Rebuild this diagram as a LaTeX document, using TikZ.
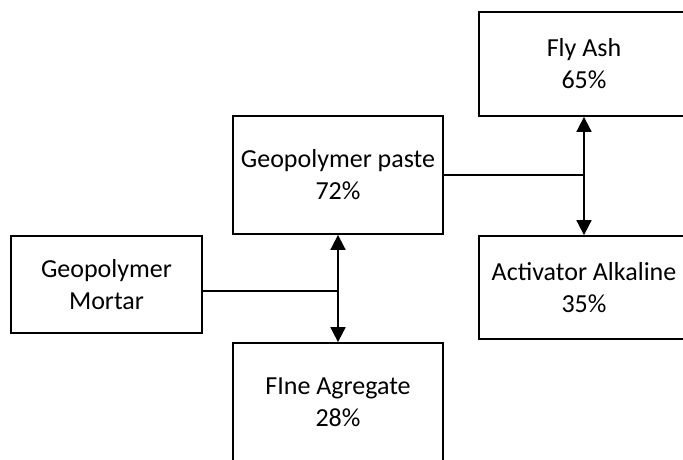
\documentclass[tikz,border=0pt]{standalone}
\usepackage{fontspec}
\setmainfont{Carlito}
\usetikzlibrary{arrows.meta,positioning}

\begin{document}
\begin{tikzpicture}[
    x=1pt, y=-1pt,
    part/.style={rectangle, draw, line width=1.8pt, minimum width=210pt, align=center, inner sep=0pt, font=\fontsize{26}{32}\selectfont},
    link/.style={line width=1.8pt},
    dbl/.style={line width=1.8pt, {Triangle[width=15pt,length=15pt]}-{Triangle[width=15pt,length=15pt]}}
]
\useasboundingbox (0,0) rectangle (683,459);
\clip (0,0) rectangle (683,459);

\node[part, minimum width=191pt, minimum height=97pt] (mortar) at (106.5,284.5) {Geopolymer\\Mortar};
\node[part, minimum height=118pt] (paste) at (338,175) {Geopolymer paste\\72\%};
\node[part, minimum height=118pt] (fine) at (338,402) {FIne Agregate\\28\%};
\node[part, minimum height=104pt] (flyash) at (584,64) {Fly Ash\\65\%};
\node[part, minimum height=103pt] (alkali) at (584,287.5) {Activator Alkaline\\35\%};

% junction points on the vertical arrows
\coordinate (jmid) at (338,291);
\coordinate (jtop) at (584,175);

\draw[dbl] (paste.south) -- (fine.north);
\draw[dbl] (flyash.south) -- (alkali.north);
\draw[link] (mortar.east |- jmid) -- (jmid);
\draw[link] (paste.east) -- (jtop);

\end{tikzpicture}
\end{document}
